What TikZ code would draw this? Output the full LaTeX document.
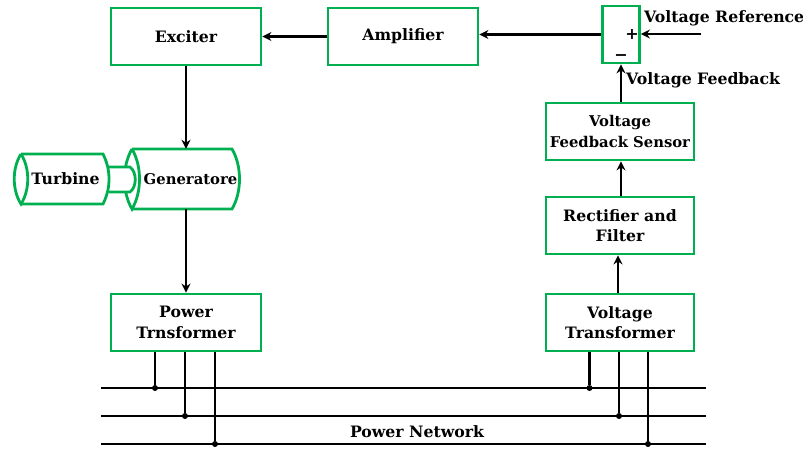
\documentclass[tikz,border=0pt]{standalone}
\usepackage{fontspec}
\setmainfont{DejaVu Serif}
\usetikzlibrary{arrows.meta}
\definecolor{boxgreen}{RGB}{0,176,80}
\tikzset{
  mainbox/.style={draw=boxgreen,line width=2.8pt,minimum width=150pt,minimum height=57pt,inner sep=0pt,align=center,font=\labelfont},
  label/.style={inner sep=0pt,font=\labelfont},
  sign/.style={inner sep=0pt,font=\bfseries\fontsize{16}{16}\selectfont},
  shell/.style={draw=boxgreen,line width=2.8pt},
  arrowline/.style={draw=black,line width=2.3pt,-{Stealth[length=9pt,width=9pt]}},
  busline/.style={draw=black,line width=2.3pt},
  tapline/.style={draw=black,line width=2.3pt},
  tapdot/.style={circle,fill=black,inner sep=0pt,minimum size=6pt}
}
\newcommand{\labelfont}{\bfseries\fontsize{15.7}{20.5}\selectfont}
\newcommand{\tightfont}{\bfseries\fontsize{14.8}{20.5}\selectfont}
\begin{document}
\begin{tikzpicture}[x=1pt,y=-1pt]
  \useasboundingbox (0,0) rectangle (803,448);
  % boxes
  \node[mainbox] (exciter) at (186,36.5) {Exciter};
  \node[mainbox] (amplifier) at (403,36.5) {Amplifier};
  \node[mainbox,minimum width=37pt] (sum) at (621,34.5) {};
  \node[mainbox,minimum width=148pt,font=\tightfont] (sensor) at (620,131.5) {Voltage\\Feedback Sensor};
  \node[mainbox,minimum width=148pt] (rectifier) at (620,225.5) {Rectifier and\\Filter};
  \node[mainbox,minimum width=148pt] (vtrans) at (620,322.5) {Voltage\\Transformer};
  \node[mainbox] (ptrans) at (186,322.5) {Power\\Trnsformer};
  % turbine and generator
  \draw[shell] (132,149) -- (232,149) .. controls (242,166) and (242,192) .. (232,209) -- (132,209);
  \draw[shell] (132,149) .. controls (122,166) and (122,192) .. (132,209) .. controls (142,192) and (142,166) .. (132,149);
  \draw[shell,fill=white] (109,167) -- (130,167) .. controls (137,172) and (137,187) .. (130,192) -- (109,192);
  \draw[shell] (21,154) -- (103,154) .. controls (107,162) and (109,170) .. (109,179) .. controls (109,188) and (107,196) .. (103,204) -- (21,204);
  \draw[shell] (21,154) .. controls (12,168) and (12,190) .. (21,204) .. controls (30,190) and (30,168) .. (21,154);
  \node[inner sep=0pt,minimum width=88pt,minimum height=50pt,font=\labelfont] (turbine) at (65.5,179) {Turbine};
  \node[inner sep=0pt,minimum width=108pt,minimum height=60pt,font=\tightfont] (generator) at (190.5,179) {Generatore};
  % signal path
  \coordinate (reference) at (701,34);
  \draw[arrowline] (reference) -- (sum.east |- reference);
  \draw[arrowline] (sum.west) -- (amplifier.east |- sum.west);
  \draw[arrowline] (amplifier) -- (exciter);
  \draw[arrowline] (exciter.south) -- (exciter.south |- generator.north);
  \draw[arrowline] (generator.south -| ptrans.north) -- (ptrans.north);
  \draw[arrowline] (vtrans.north -| 618,0) -- (rectifier.south -| 618,0);
  \draw[arrowline] (rectifier.north -| 621,0) -- (sensor.south -| 621,0);
  \draw[arrowline] (sensor.north -| sum.south) -- (sum.south);
  % network
  \coordinate (aleft) at (101,388);
  \coordinate (aright) at (706,388);
  \coordinate (bleft) at (101,416);
  \coordinate (bright) at (706,416);
  \coordinate (cleft) at (101,444);
  \coordinate (cright) at (706,444);
  \draw[busline] (aleft) -- (aright);
  \draw[busline] (bleft) -- (bright);
  \draw[busline] (cleft) -- (cright);
  \node[tapdot] (p1) at (155,388) {};
  \node[tapdot] (p2) at (185,416) {};
  \node[tapdot] (p3) at (215,444) {};
  \node[tapdot] (v1) at (589.5,388) {};
  \node[tapdot] (v2) at (619,416) {};
  \node[tapdot] (v3) at (648,444) {};
  \draw[tapline] (p1) -- (p1 |- ptrans.south);
  \draw[tapline] (p2) -- (p2 |- ptrans.south);
  \draw[tapline] (p3) -- (p3 |- ptrans.south);
  \draw[tapline] (v1) -- (v1 |- vtrans.south);
  \draw[tapline] (v2) -- (v2 |- vtrans.south);
  \draw[tapline] (v3) -- (v3 |- vtrans.south);
  % labels
  \node[sign] (plus) at (632,34) {+};
  \node[sign] (minus) at (621,57.5) {\textminus};
  \node[label,anchor=west] (vref) at (644,18) {Voltage Reference};
  \node[label,anchor=west] (vfb) at (626,80) {Voltage Feedback};
  \node[label] (network) at (417,432) {Power Network};
\end{tikzpicture}
\end{document}
